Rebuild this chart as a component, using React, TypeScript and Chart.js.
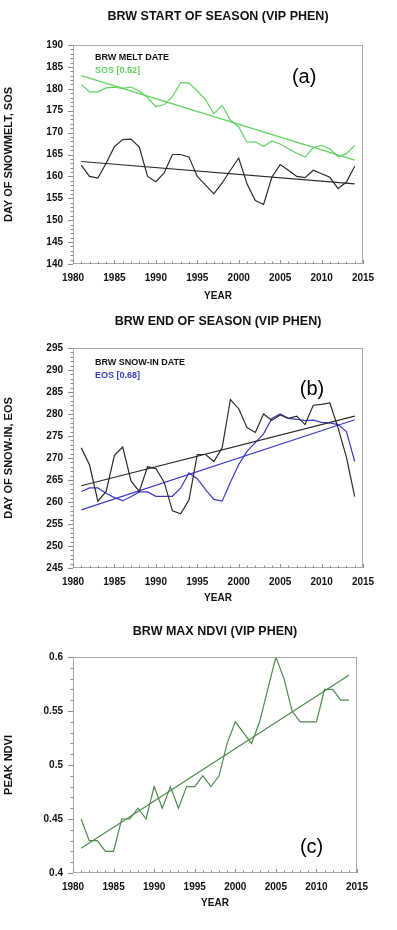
import React, { useEffect, useRef } from 'react';
import { Chart, registerables } from 'chart.js';

Chart.register(...registerables);

// ---------- DATA ----------
const YEARS = [
  1981, 1982, 1983, 1984, 1985, 1986, 1987, 1988, 1989, 1990, 1991, 1992,
  1993, 1994, 1995, 1996, 1997, 1998, 1999, 2000, 2001, 2002, 2003, 2004,
  2005, 2006, 2007, 2008, 2009, 2010, 2011, 2012, 2013, 2014,
];
const TREND_YEARS = [1981, 2014];

// (a) start of season
const MELT_DATE = [
  162.5, 160.0, 159.6, 163.0, 166.8, 168.4, 168.5, 166.7, 160.0, 158.8, 160.8, 165.0,
  165.0, 164.4, 160.0, 158.0, 156.0, 158.5, 161.4, 164.2, 158.3, 154.5, 153.6, 159.8,
  162.7, 161.4, 160.0, 159.7, 161.4, 160.6, 159.8, 157.2, 158.7, 162.3,
];
const SOS = [
  181.0, 179.3, 179.3, 180.2, 180.4, 180.1, 180.4, 179.5, 178.0, 175.9, 176.4, 178.2,
  181.4, 181.3, 179.5, 177.5, 174.3, 176.2, 172.8, 171.3, 167.8, 167.9, 166.8, 168.1,
  167.4, 166.3, 165.3, 164.4, 166.6, 167.1, 166.3, 164.5, 165.2, 167.1,
];
const MELT_TREND = [163.4, 158.3];
const SOS_TREND = [183.0, 163.7];

// (b) end of season
const SNOW_IN_DATE = [
  272.3, 268.4, 260.2, 262.4, 270.6, 272.5, 264.8, 262.4, 268.0, 267.6, 264.5, 258.0,
  257.3, 260.5, 270.8, 270.8, 269.2, 272.3, 283.3, 281.2, 276.9, 275.8, 280.0, 278.6,
  279.8, 279.0, 279.5, 277.6, 282.0, 282.2, 282.5, 276.8, 270.2, 261.2,
];
const EOS = [
  262.4, 263.2, 263.2, 262.0, 261.0, 260.3, 261.2, 262.3, 262.3, 261.3, 261.3, 261.3,
  263.2, 266.6, 265.3, 262.8, 260.6, 260.2, 264.5, 268.5, 271.5, 273.5, 275.5, 279.0,
  280.0, 279.0, 278.8, 278.5, 278.6, 278.1, 278.0, 277.6, 276.0, 269.2,
];
const SNOW_IN_TREND = [263.7, 279.5];
const EOS_TREND = [258.2, 278.7];

// (c) max NDVI
const PEAK_NDVI = [
  0.45, 0.43, 0.43, 0.42, 0.42, 0.45, 0.45, 0.46, 0.45, 0.48, 0.46, 0.48,
  0.46, 0.48, 0.48, 0.49, 0.48, 0.49, 0.52, 0.54, 0.53, 0.52, 0.54, 0.57,
  0.60, 0.58, 0.55, 0.54, 0.54, 0.54, 0.57, 0.57, 0.56, 0.56,
];
const NDVI_TREND = [0.423, 0.583];

// ---------- STYLE ----------
const FONT = "'Liberation Sans', Arial, Helvetica, sans-serif";
const BLACK = '#2a2a2a';
const LIGHT_GREEN = '#5fd35f';
const BLUE = '#3a3ac4';
const DARK_GREEN = '#4f8a4f';

type Line = { x: number[]; y: number[]; color: string };
type Label = { text: string; color: string };

type PanelProps = {
  top: number;
  height: number;
  plotTop: number;
  plotBottom: number;
  plotRight: number;
  title: string;
  titleY: number;
  yTitle: string;
  yMin: number;
  yMax: number;
  yStep: number;
  yMinor: number;
  yDecimals: number;
  xTitlePadBottom: number;
  lines: Line[];
  labels: Label[];
  labelTop: number;
  tag: string;
  tagFx: number;
  tagFy: number;
};

const decoPlugin = {
  id: 'deco',
  afterDraw(chart: any, _args: any, opts: any) {
    const { ctx, chartArea: ca, scales } = chart;
    const xs = scales.x;
    const ys = scales.y;
    ctx.save();
    // box
    ctx.strokeStyle = '#a9a9a9';
    ctx.lineWidth = 1;
    ctx.strokeRect(ca.left + 0.5, ca.top + 0.5, ca.right - ca.left - 1, ca.bottom - ca.top - 1);
    // y ticks (outward)
    ctx.strokeStyle = '#8a8a8a';
    const n = Math.round((opts.yMax - opts.yMin) / opts.yMinor);
    const per = Math.round(opts.yStep / opts.yMinor);
    for (let i = 0; i <= n; i++) {
      const v = opts.yMin + i * opts.yMinor;
      const py = Math.round(ys.getPixelForValue(v)) + 0.5;
      const len = i % per === 0 ? 5 : 2.5;
      ctx.beginPath();
      ctx.moveTo(ca.left, py);
      ctx.lineTo(ca.left - len, py);
      ctx.stroke();
    }
    // x ticks (inward)
    for (let yr = 1980; yr <= 2015; yr++) {
      const px = Math.round(xs.getPixelForValue(yr)) + 0.5;
      const len = yr % 5 === 0 ? 4 : 2.5;
      ctx.beginPath();
      ctx.moveTo(px, ca.bottom);
      ctx.lineTo(px, ca.bottom - len);
      ctx.stroke();
    }
    // title
    ctx.fillStyle = '#111';
    ctx.font = `bold 12.5px ${FONT}`;
    ctx.textAlign = 'center';
    ctx.textBaseline = 'middle';
    ctx.fillText(opts.title, (ca.left + ca.right) / 2, opts.titleY);
    // in-plot labels
    ctx.textAlign = 'left';
    ctx.font = `bold 9px ${FONT}`;
    opts.labels.forEach((l: Label, i: number) => {
      ctx.fillStyle = l.color;
      ctx.fillText(l.text, ca.left + 22, ca.top + opts.labelTop + i * 13);
    });
    // panel tag
    ctx.fillStyle = '#000';
    ctx.font = `20px ${FONT}`;
    ctx.textAlign = 'center';
    ctx.fillText(
      opts.tag,
      ca.left + opts.tagFx * (ca.right - ca.left),
      ca.top + opts.tagFy * (ca.bottom - ca.top)
    );
    ctx.restore();
  },
};

function Panel(p: PanelProps) {
  const ref = useRef<HTMLCanvasElement | null>(null);
  useEffect(() => {
    if (!ref.current) return;
    const W = 397;
    const H = p.height;
    const chart = new Chart(ref.current, {
      type: 'line',
      data: {
        datasets: p.lines.map((l) => ({
          data: l.x.map((xv, i) => ({ x: xv, y: l.y[i] })),
          borderColor: l.color,
          borderWidth: 1.2,
          pointRadius: 0,
          fill: false,
          tension: 0,
        })),
      },
      options: {
        animation: false,
        responsive: false,
        events: [],
        layout: { padding: { top: p.plotTop, right: W - p.plotRight, left: 0, bottom: 0 } },
        plugins: {
          legend: { display: false },
          tooltip: { enabled: false },
          title: { display: false },
          deco: {
            title: p.title,
            titleY: p.titleY,
            yMin: p.yMin,
            yMax: p.yMax,
            yStep: p.yStep,
            yMinor: p.yMinor,
            labels: p.labels,
            labelTop: p.labelTop,
            tag: p.tag,
            tagFx: p.tagFx,
            tagFy: p.tagFy,
          },
        } as any,
        scales: {
          x: {
            type: 'linear',
            min: 1980,
            max: 2015,
            afterFit: (s: any) => {
              s.height = H - p.plotBottom;
            },
            grid: { display: false, drawTicks: false },
            border: { display: false },
            ticks: {
              stepSize: 5,
              padding: 8,
              color: '#111',
              font: { family: FONT, size: 10, weight: 'bold' },
              maxRotation: 0,
              callback: (v: any) => String(v),
            },
            title: {
              display: true,
              text: 'YEAR',
              color: '#111',
              font: { family: FONT, size: 10, weight: 'bold' },
              padding: { top: 0, bottom: p.xTitlePadBottom },
            },
          },
          y: {
            type: 'linear',
            min: p.yMin,
            max: p.yMax,
            afterFit: (s: any) => {
              s.width = 73;
            },
            grid: { display: false, drawTicks: false },
            border: { display: false },
            ticks: {
              stepSize: p.yStep,
              padding: 10,
              color: '#111',
              font: { family: FONT, size: 10, weight: 'bold' },
              callback: (v: any) => String(Number(Number(v).toFixed(p.yDecimals))),
            },
            title: {
              display: true,
              text: p.yTitle,
              color: '#111',
              font: { family: FONT, size: 11, weight: 'bold' },
              padding: { top: 2, bottom: 0 },
            },
          },
        },
      },
      plugins: [decoPlugin as any],
    });
    return () => chart.destroy();
  }, []);
  return (
    <canvas
      ref={ref}
      width={397}
      height={p.height}
      style={{ position: 'absolute', left: 0, top: p.top, width: 397, height: p.height, display: 'block' }}
    />
  );
}

export default function App() {
  return (
    <div style={{ position: 'absolute', left: 0, top: 0, width: 397, height: 930, background: '#fff' }}>
      <Panel
        top={0}
        height={305}
        plotTop={45}
        plotBottom={264}
        plotRight={363}
        title="BRW START OF SEASON (VIP PHEN)"
        titleY={17}
        yTitle="DAY OF SNOWMELT, SOS"
        yMin={140}
        yMax={190}
        yStep={5}
        yMinor={1}
        yDecimals={0}
        xTitlePadBottom={3}
        lines={[
          { x: YEARS, y: MELT_DATE, color: BLACK },
          { x: TREND_YEARS, y: MELT_TREND, color: BLACK },
          { x: YEARS, y: SOS, color: LIGHT_GREEN },
          { x: TREND_YEARS, y: SOS_TREND, color: LIGHT_GREEN },
        ]}
        labels={[
          { text: 'BRW MELT DATE', color: '#111' },
          { text: 'SOS [0.52]', color: LIGHT_GREEN },
        ]}
        labelTop={13}
        tag="(a)"
        tagFx={0.797}
        tagFy={0.15}
      />
      <Panel
        top={305}
        height={305}
        plotTop={43}
        plotBottom={263}
        plotRight={363}
        title="BRW END OF SEASON (VIP PHEN)"
        titleY={17}
        yTitle="DAY OF SNOW-IN, EOS"
        yMin={245}
        yMax={295}
        yStep={5}
        yMinor={1}
        yDecimals={0}
        xTitlePadBottom={6}
        lines={[
          { x: YEARS, y: SNOW_IN_DATE, color: BLACK },
          { x: TREND_YEARS, y: SNOW_IN_TREND, color: BLACK },
          { x: YEARS, y: EOS, color: BLUE },
          { x: TREND_YEARS, y: EOS_TREND, color: BLUE },
        ]}
        labels={[
          { text: 'BRW SNOW-IN DATE', color: '#111' },
          { text: 'EOS [0.68]', color: BLUE },
        ]}
        labelTop={15}
        tag="(b)"
        tagFx={0.824}
        tagFy={0.19}
      />
      <Panel
        top={610}
        height={320}
        plotTop={47}
        plotBottom={263}
        plotRight={357}
        title="BRW MAX NDVI (VIP PHEN)"
        titleY={22}
        yTitle="PEAK NDVI"
        yMin={0.4}
        yMax={0.6}
        yStep={0.05}
        yMinor={0.01}
        yDecimals={2}
        xTitlePadBottom={21}
        lines={[
          { x: YEARS, y: PEAK_NDVI, color: DARK_GREEN },
          { x: TREND_YEARS, y: NDVI_TREND, color: DARK_GREEN },
        ]}
        labels={[]}
        labelTop={15}
        tag="(c)"
        tagFx={0.84}
        tagFy={0.88}
      />
    </div>
  );
}
